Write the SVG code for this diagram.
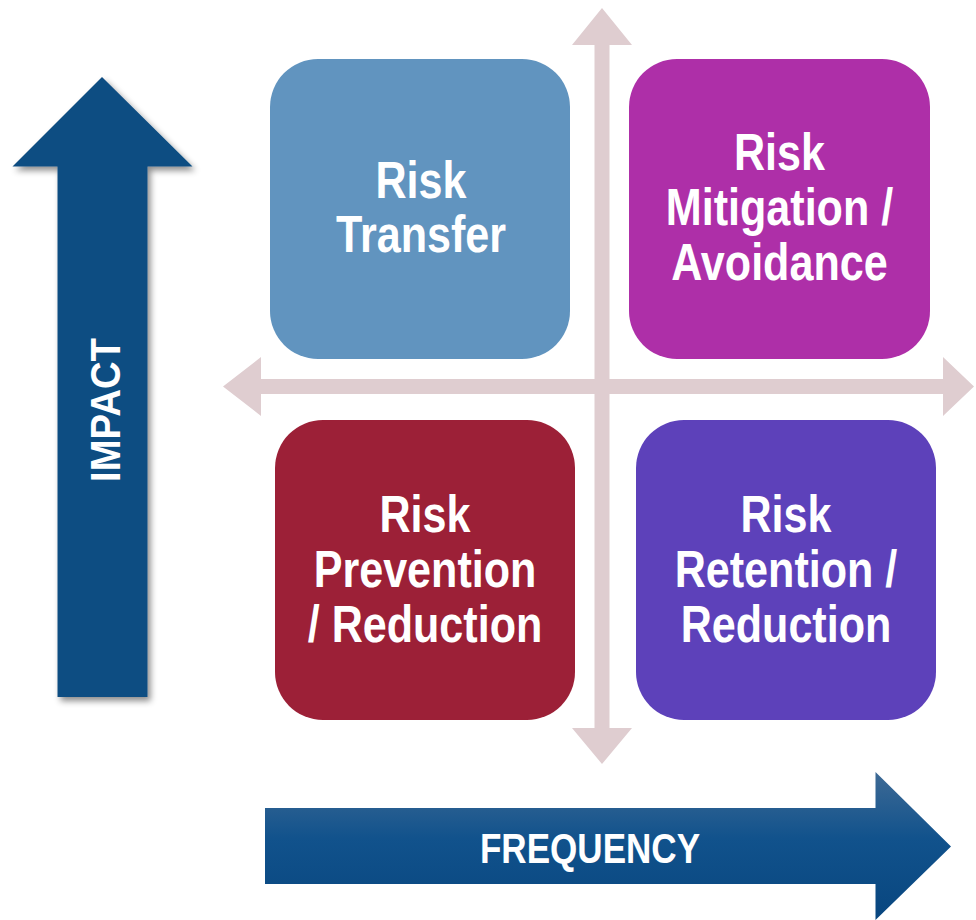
<svg xmlns="http://www.w3.org/2000/svg" width="976" height="920" viewBox="0 0 976 920">
  <defs>
    <linearGradient id="freqGrad" x1="0" y1="0" x2="0" y2="1">
      <stop offset="0" stop-color="#3e6a95"/>
      <stop offset="0.45" stop-color="#11528c"/>
      <stop offset="1" stop-color="#08467f"/>
    </linearGradient>
    <filter id="shadow" x="-20%" y="-10%" width="150%" height="130%">
      <feDropShadow dx="3" dy="4" stdDeviation="3" flood-color="#000" flood-opacity="0.45"/>
    </filter>
    <style>
      .lbl { font-family: "Liberation Sans", Arial, sans-serif; font-weight: bold; fill: #ffffff; text-anchor: middle; }
      .box-text { font-size: 51px; }
      .axis { fill: #dfcdd0; }
    </style>
  </defs>
  <rect width="976" height="920" fill="#ffffff"/>

  <g id="connectors">
    <path class="axis" d="M602,8 L632,45 L609.5,45 L609.5,728 L632,728 L602,764 L572,728 L594.5,728 L594.5,45 L572,45 Z"/>
    <path class="axis" d="M223,386.5 L261,357 L261,379 L943,379 L943,357 L974,386.5 L943,416 L943,394 L261,394 L261,416 Z"/>
  </g>

  <g id="impact">
    <path d="M102,77 L192.5,166.5 L147.5,166.5 L147.5,697 L57.5,697 L57.5,166.5 L12.5,166.5 Z" fill="#0f4e82" filter="url(#shadow)"/>
    <text class="lbl" transform="translate(119.5,410) rotate(-90)" font-size="43" textLength="144" lengthAdjust="spacingAndGlyphs">IMPACT</text>
  </g>

  <g id="frequency">
    <path d="M265,808 L875.5,808 L875.5,772 L951,846.5 L875.5,920 L875.5,884 L265,884 Z" fill="url(#freqGrad)"/>
    <g transform="translate(590,0) scale(0.835,1)">
      <text class="lbl" x="0" y="863" font-size="42">FREQUENCY</text>
    </g>
  </g>

  <g id="risk-transfer">
    <rect x="270" y="59" width="300" height="300" rx="48" ry="48" fill="#6194bf"/>
    <g transform="translate(421,0) scale(0.845,1)">
      <text class="lbl box-text" x="0" y="198">Risk</text>
      <text class="lbl box-text" x="0" y="252">Transfer</text>
    </g>
  </g>

  <g id="risk-mitigation">
    <rect x="629" y="59" width="301" height="300" rx="48" ry="48" fill="#ae2fa8"/>
    <g transform="translate(779.5,0) scale(0.845,1)">
      <text class="lbl box-text" x="0" y="170">Risk</text>
      <text class="lbl box-text" x="0" y="225">Mitigation /</text>
      <text class="lbl box-text" x="0" y="280">Avoidance</text>
    </g>
  </g>

  <g id="risk-prevention">
    <rect x="275" y="420" width="300" height="300" rx="48" ry="48" fill="#9c2037"/>
    <g transform="translate(425,0) scale(0.845,1)">
      <text class="lbl box-text" x="0" y="532">Risk</text>
      <text class="lbl box-text" x="0" y="587">Prevention</text>
      <text class="lbl box-text" x="0" y="642">/ Reduction</text>
    </g>
  </g>

  <g id="risk-retention">
    <rect x="636" y="420" width="300" height="300" rx="48" ry="48" fill="#5d41ba"/>
    <g transform="translate(786,0) scale(0.845,1)">
      <text class="lbl box-text" x="0" y="532">Risk</text>
      <text class="lbl box-text" x="0" y="587">Retention /</text>
      <text class="lbl box-text" x="0" y="642">Reduction</text>
    </g>
  </g>
</svg>
